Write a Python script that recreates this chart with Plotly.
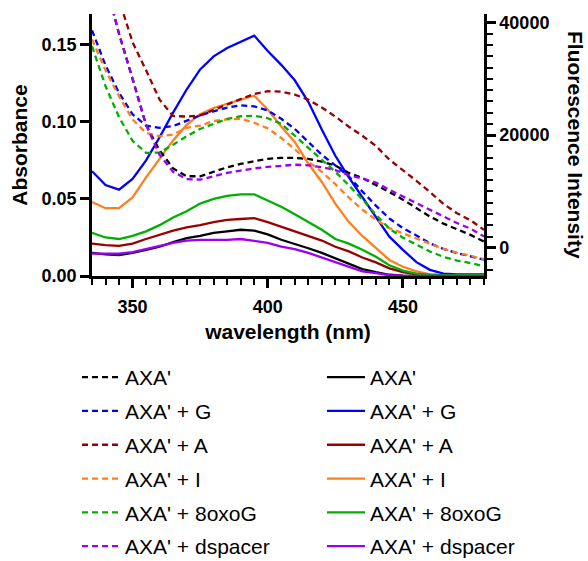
import plotly.graph_objects as go

# ---------------- data ----------------
wavelength = [335, 340, 345, 350, 355, 360, 365, 370, 375, 380, 385, 390, 395, 400, 405,
              410, 415, 420, 425, 430, 435, 440, 445, 450, 455, 460, 465, 470, 475, 480]

series_names = ["AXA'", "AXA' + G", "AXA' + A", "AXA' + I", "AXA' + 8oxoG", "AXA' + dspacer"]

# Fluorescence intensity (dashed, right axis)
fl_AXA = [56000, 47000, 38000, 30000, 21800, 17300, 14100, 12700, 12700, 13500, 14300, 14900, 15350, 15800, 15950,
          15950, 15800, 15300, 14600, 13300, 12400, 11200, 9900, 8550, 7060, 5550, 4300, 3300, 2300, 1100]
fl_G = [38600, 32400, 27500, 23700, 21700, 21300, 21600, 22500, 23500, 24230, 24900, 25300, 25100, 24400, 22900,
        21100, 18800, 16500, 14650, 12700, 10000, 7500, 5200, 3500, 2200, 800, -200, -950, -1500, -2100]
fl_A = [62000, 52000, 44000, 36500, 31500, 26300, 23400, 23300, 23500, 24500, 25400, 26400, 27300, 27800, 27700,
        27200, 26300, 24900, 23300, 21500, 19900, 18100, 15650, 13800, 11900, 9900, 7800, 6150, 4900, 3200]
fl_I = [37000, 31500, 26900, 22800, 20400, 19800, 20100, 21300, 21700, 22500, 22800, 22900, 22200, 21200, 19500,
        17500, 15300, 13500, 11300, 8900, 6800, 5000, 3500, 2550, 1600, 650, -200, -850, -1450, -2000]
fl_8oxoG = [35800, 28700, 23200, 19000, 16850, 16900, 18300, 19800, 21100, 22050, 22900, 23350, 23450, 23000, 22000,
            19900, 17800, 15700, 13500, 11100, 8600, 5900, 3400, 1800, 550, -650, -1600, -2250, -2700, -3300]
fl_dspacer = [56000, 47000, 38000, 30000, 21800, 16500, 13500, 12200, 12100, 12700, 13300, 13700, 14100, 14350, 14550,
              14750, 14650, 14300, 13800, 12900, 12300, 11600, 10300, 9100, 7950, 6700, 5500, 4400, 3400, 2000]

# Absorbance (solid, left axis)
abs_AXA = [0.015, 0.014, 0.0136, 0.015, 0.017, 0.019, 0.022, 0.0245, 0.026, 0.028, 0.029, 0.030, 0.0295, 0.027, 0.0235,
           0.021, 0.018, 0.015, 0.0115, 0.008, 0.0045, 0.0025, 0.0008, 0.0002, 0.0001, 0.0, 0.0, 0.0, 0.0, 0.0]
abs_G = [0.068, 0.059, 0.056, 0.063, 0.075, 0.090, 0.106, 0.121, 0.134, 0.1425, 0.148, 0.152, 0.156, 0.146, 0.137,
         0.127, 0.113, 0.095, 0.078, 0.064, 0.051, 0.038, 0.0255, 0.017, 0.009, 0.004, 0.0015, 0.001, 0.001, 0.001]
abs_A = [0.021, 0.020, 0.0195, 0.021, 0.024, 0.027, 0.0295, 0.0315, 0.033, 0.035, 0.0364, 0.037, 0.0375, 0.035, 0.032,
         0.029, 0.026, 0.023, 0.019, 0.016, 0.012, 0.0088, 0.005, 0.0025, 0.001, 0.0005, 0.0003, 0.0003, 0.0003, 0.0003]
abs_I = [0.048, 0.044, 0.044, 0.051, 0.064, 0.076, 0.088, 0.098, 0.105, 0.109, 0.112, 0.1145, 0.117, 0.108, 0.097,
         0.087, 0.073, 0.061, 0.047, 0.035, 0.026, 0.018, 0.0104, 0.006, 0.003, 0.001, 0.0005, 0.0005, 0.0005, 0.0005]
abs_8oxoG = [0.028, 0.025, 0.024, 0.026, 0.029, 0.033, 0.038, 0.042, 0.047, 0.050, 0.052, 0.053, 0.053, 0.049, 0.045,
             0.040, 0.035, 0.030, 0.024, 0.021, 0.017, 0.0125, 0.007, 0.0035, 0.0015, 0.0008, 0.0006, 0.0006, 0.0006, 0.0006]
abs_dspacer = [0.0145, 0.0145, 0.0145, 0.0155, 0.0175, 0.0195, 0.0215, 0.023, 0.0235, 0.0235, 0.0235, 0.024, 0.0228, 0.0215, 0.019,
               0.0175, 0.015, 0.012, 0.0085, 0.0055, 0.003, 0.0018, 0.0005, 0.0002, 0.0001, 0.0, 0.0, 0.0, 0.0, 0.0]

colors = ["#000000", "#0000ff", "#990000", "#ff7f1e", "#00b000", "#9b00f5"]

fl_series = [fl_AXA, fl_G, fl_A, fl_I, fl_8oxoG, fl_dspacer]
abs_series = [abs_AXA, abs_G, abs_A, abs_I, abs_8oxoG, abs_dspacer]

# ---------------- figure ----------------
FONT = "Liberation Sans, Arial, sans-serif"
fig = go.Figure()

for rank, (name, vals, col) in enumerate(zip(series_names, fl_series, colors)):
    fig.add_trace(go.Scatter(
        x=wavelength, y=vals, yaxis="y2", mode="lines", name=name,
        line=dict(color=col, width=2.3, dash="6px,4px"),
        legend="legend", legendgroup="fl_" + name, legendrank=rank + 1))

for rank, (name, vals, col) in enumerate(zip(series_names, abs_series, colors)):
    fig.add_trace(go.Scatter(
        x=wavelength, y=vals, yaxis="y", mode="lines", name=name,
        line=dict(color=col, width=2.3),
        legend="legend2", legendgroup="abs_" + name, legendrank=rank + 1))

L, R, T, B = 92, 104, 14, 285
W, H = 588, 561
pw = W - L - R
ph = H - T - B
LEG_TOP = 357

axis_common = dict(showline=True, linewidth=2.5, linecolor="black", ticks="outside",
                   ticklen=9, tickwidth=2.5, tickcolor="black", showgrid=False, zeroline=False,
                   tickfont=dict(size=18, family=FONT, weight="bold", color="black"),
                   automargin=False)

fig.update_layout(
    width=W, height=H,
    margin=dict(l=L, r=R, t=T, b=B, autoexpand=False),
    paper_bgcolor="white", plot_bgcolor="white",
    font=dict(family=FONT, color="black"),
    xaxis=dict(range=[335, 480], tick0=350, dtick=50,
               minor=dict(dtick=5, tick0=335, ticks="outside", ticklen=6, tickwidth=2, tickcolor="black", showgrid=False),
               ticklabelstandoff=4,
               title=dict(text="wavelength (nm)", font=dict(size=21, family=FONT, weight="bold"), standoff=8),
               **axis_common),
    yaxis=dict(range=[0, 0.17], tick0=0, dtick=0.05, tickformat=".2f",
               title=dict(text="Absorbance", font=dict(size=21, family=FONT, weight="bold"), standoff=9),
               **axis_common),
    yaxis2=dict(range=[-5000, 41500], tick0=0, dtick=20000, overlaying="y", side="right",
                tickformat="d", exponentformat="none",
                minor=dict(dtick=2000, tick0=0, ticks="outside", ticklen=6, tickwidth=2, tickcolor="black", showgrid=False),
                **axis_common),
    legend=dict(x=(77 - L) / pw, y=(H - B - LEG_TOP) / ph, xanchor="left", yanchor="top",
                font=dict(size=21, family=FONT), bgcolor="rgba(0,0,0,0)", tracegroupgap=3.5, itemwidth=38,
                maxheight=400),
    legend2=dict(x=(322 - L) / pw, y=(H - B - LEG_TOP) / ph, xanchor="left", yanchor="top",
                 font=dict(size=21, family=FONT), bgcolor="rgba(0,0,0,0)", tracegroupgap=3.5, itemwidth=38,
                 maxheight=400),
    annotations=[dict(text="Fluorescence Intensity", xref="paper", yref="paper",
                      x=(576 - L) / pw, y=0.5, xanchor="center", yanchor="middle",
                      textangle=90, showarrow=False,
                      font=dict(size=21, family=FONT, weight="bold", color="black"))],
)

fig.write_html("out.html", config={"displayModeBar": False},
               post_script="document.body.style.margin='0';")
